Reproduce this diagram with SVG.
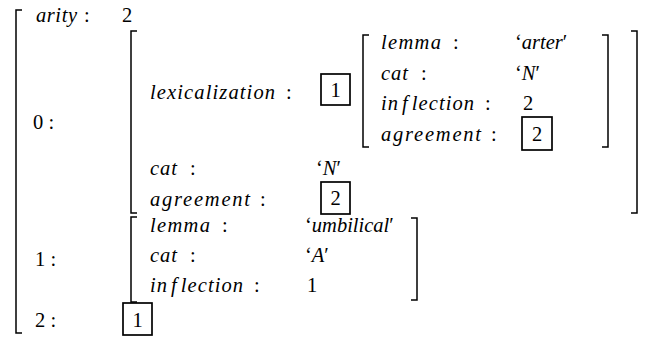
<svg xmlns="http://www.w3.org/2000/svg" width="659" height="337" viewBox="0 0 659 337">
  <style>
    text { font-family: 'Liberation Serif', 'Times New Roman', serif; font-size: 20.5px; fill: #000; }
    .i { font-style: italic; }
    .br { fill: none; stroke: #000; stroke-width: 1.5; }
    .tag { fill: none; stroke: #000; stroke-width: 1.7; }
  </style>

  <!-- outer matrix: left bracket only -->
  <g id="outer">
    <path class="br" d="M22,10 H16 V333 H22"/>
    <text class="i" x="36" y="22" textLength="41" lengthAdjust="spacing">arity</text>
    <text x="84" y="22">:</text>
    <text x="122" y="22">2</text>
    <text x="33" y="129">0 :</text>
    <text x="35" y="266">1 :</text>
    <text x="35" y="327">2 :</text>
  </g>

  <!-- value of feature 0 -->
  <g id="f0">
    <path class="br" d="M137,31 H131 V213 H137"/>
    <path class="br" d="M631,31 H637 V213 H631"/>
    <text class="i" x="150" y="99" textLength="125" lengthAdjust="spacing">lexicalization</text>
    <text x="286" y="99">:</text>
    <text class="i" x="150" y="175" textLength="27" lengthAdjust="spacing">cat</text>
    <text x="190" y="175">:</text>
    <text x="316" y="175">‘<tspan class="i">N</tspan>′</text>
    <text class="i" x="150" y="206" textLength="100" lengthAdjust="spacing">agreement</text>
    <text x="260" y="206">:</text>
  </g>

  <!-- shared tag 1 and the lexical entry it names -->
  <g id="lex">
    <rect class="tag" x="321" y="74" width="29" height="31"/>
    <text x="335.5" y="97" text-anchor="middle">1</text>
    <path class="br" d="M369,35 H363 V147 H369"/>
    <path class="br" d="M602,35 H608 V147 H602"/>
    <text class="i" x="381" y="49" textLength="60" lengthAdjust="spacing">lemma</text>
    <text x="453" y="49">:</text>
    <text x="515" y="49">‘<tspan class="i">arter</tspan>′</text>
    <text class="i" x="381" y="80" textLength="27" lengthAdjust="spacing">cat</text>
    <text x="421" y="80">:</text>
    <text x="515" y="80">‘<tspan class="i">N</tspan>′</text>
    <text class="i" x="381" y="110" textLength="93" lengthAdjust="spacing">in<tspan dx="3">f</tspan><tspan dx="3">lection</tspan></text>
    <text x="485" y="110">:</text>
    <text x="523" y="110">2</text>
    <text class="i" x="381" y="141" textLength="100" lengthAdjust="spacing">agreement</text>
    <text x="491" y="141">:</text>
    <rect class="tag" x="522" y="117" width="30" height="33"/>
    <text x="537" y="141" text-anchor="middle">2</text>
  </g>

  <!-- agreement tag of feature 0 -->
  <g id="agr0">
    <rect class="tag" x="321" y="182" width="29" height="32"/>
    <text x="335.5" y="205" text-anchor="middle">2</text>
  </g>

  <!-- value of feature 1 -->
  <g id="f1">
    <path class="br" d="M137,217 H131 V302 H137"/>
    <path class="br" d="M411,218 H417 V300 H411"/>
    <text class="i" x="150" y="232" textLength="60" lengthAdjust="spacing">lemma</text>
    <text x="222" y="232">:</text>
    <text x="305" y="232">‘<tspan class="i">umbilical</tspan>′</text>
    <text class="i" x="150" y="262" textLength="27" lengthAdjust="spacing">cat</text>
    <text x="190" y="262">:</text>
    <text x="305" y="262">‘<tspan class="i">A</tspan>′</text>
    <text class="i" x="150" y="292" textLength="93" lengthAdjust="spacing">in<tspan dx="3">f</tspan><tspan dx="3">lection</tspan></text>
    <text x="254" y="292">:</text>
    <text x="307" y="292">1</text>
  </g>

  <!-- value of feature 2: tag 1 -->
  <g id="f2">
    <rect class="tag" x="123" y="303" width="29" height="32"/>
    <text x="137.5" y="327" text-anchor="middle">1</text>
  </g>
</svg>
